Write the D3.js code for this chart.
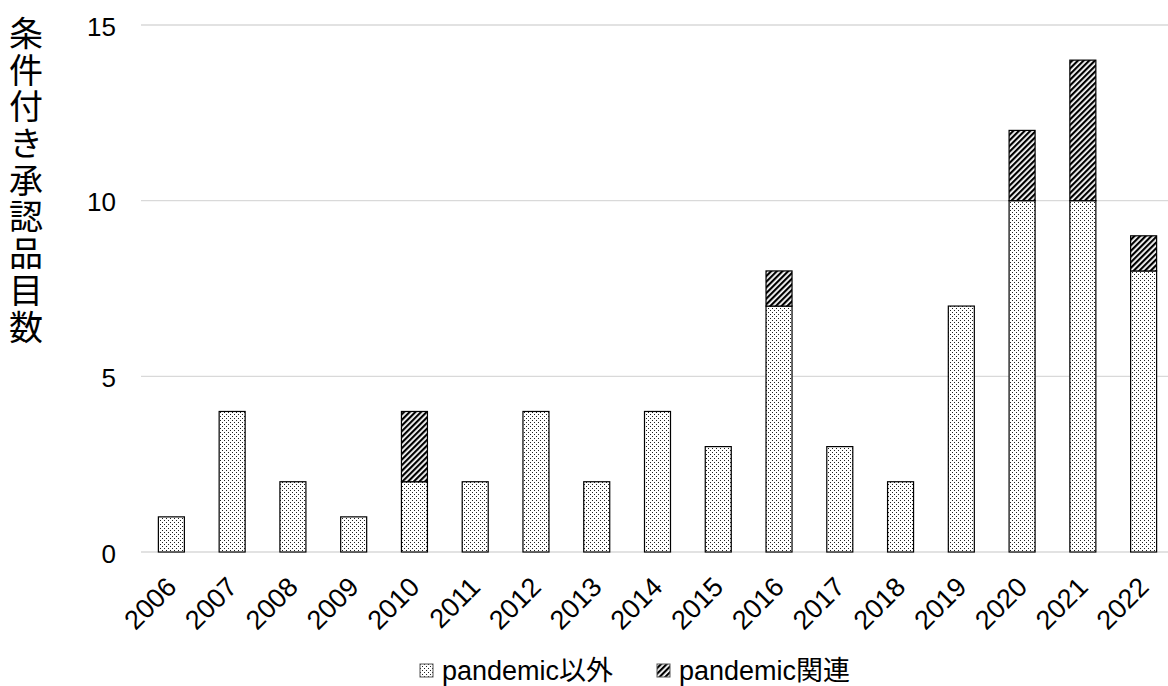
<!DOCTYPE html>
<html><head><meta charset="utf-8">
<script src="https://cdn.jsdelivr.net/npm/d3@7"></script>
<style>
html,body{margin:0;padding:0;background:#fff;}
svg{display:block;font-family:"Liberation Sans",Arial,"Noto Sans CJK JP",sans-serif;}
</style></head>
<body><svg id="c" width="1168" height="686"></svg>
<script>
const years = ["2006","2007","2008","2009","2010","2011","2012","2013","2014","2015","2016","2017","2018","2019","2020","2021","2022"];
const nonPandemic = [1,4,2,1,2,2,4,2,4,3,7,3,2,7,10,10,8];
const pandemic = [0,0,0,0,2,0,0,0,0,0,1,0,0,0,2,4,1];
const yTicks = [0,5,10,15];
const seriesNames = ["pandemic以外","pandemic関連"];
const yTitle = "条件付き承認品目数";

const svg = d3.select("#c");
const defs = svg.append("defs");
const pd = defs.append("pattern").attr("id","dots").attr("patternUnits","userSpaceOnUse")
  .attr("width",4).attr("height",4);
pd.append("rect").attr("width",4).attr("height",4).attr("fill","#fff");
pd.append("rect").attr("x",0).attr("y",0).attr("width",1).attr("height",1).attr("fill","#222");
pd.append("rect").attr("x",2).attr("y",2).attr("width",1).attr("height",1).attr("fill","#222");
const ph = defs.append("pattern").attr("id","hatch").attr("patternUnits","userSpaceOnUse")
  .attr("width",4).attr("height",10).attr("patternTransform","rotate(45)");
ph.append("rect").attr("width",4).attr("height",10).attr("fill","#fff");
ph.append("rect").attr("x",0).attr("width",2.2).attr("height",10).attr("fill","#000");

const x = d3.scaleBand().domain(years).range([141,1174]).paddingInner(0.572).paddingOuter(0.286);
const y = d3.scaleLinear().domain([0,15]).range([552,25]);

// gridlines
svg.append("g").selectAll("line").data(yTicks).join("line")
  .attr("x1",141).attr("x2",1174).attr("y1",d=>y(d)).attr("y2",d=>y(d))
  .attr("stroke","#d9d9d9").attr("stroke-width",1.3);

// y axis labels
const yAxis = svg.append("g").attr("transform","translate(116,2)")
  .call(d3.axisLeft(y).tickValues(yTicks).tickSize(0).tickPadding(0));
yAxis.select(".domain").remove();
yAxis.selectAll("text").attr("font-size",26).attr("fill","#000").attr("font-family","\"Liberation Sans\",Arial,sans-serif");

// bars
const stackData = years.map((yr,i)=>({year:yr, a:nonPandemic[i], b:pandemic[i]}));
const stack = d3.stack().keys(["a","b"])(stackData);
const fills = ["url(#dots)","url(#hatch)"];
stack.forEach((layer,k)=>{
  svg.append("g").selectAll("rect").data(layer.filter(d=>d[1]-d[0]>0)).join("rect")
    .attr("x",d=>x(d.data.year)).attr("width",x.bandwidth())
    .attr("y",d=>y(d[1])).attr("height",d=>y(d[0])-y(d[1]))
    .attr("fill",fills[k]).attr("stroke","#000").attr("stroke-width",1.2);
});

// x labels
svg.append("g").selectAll("text").data(years).join("text")
  .attr("transform",d=>`translate(${x(d)+x.bandwidth()/2},582) rotate(-45)`)
  .attr("text-anchor","end").attr("dy","0.35em")
  .attr("font-size",27).attr("fill","#000").text(d=>d);

// y title (vertical)
svg.append("text").attr("x",26).attr("y",16)
  .attr("font-size",34).attr("fill","#000")
  .attr("font-family","\"Noto Sans CJK JP\",sans-serif")
  .style("writing-mode","vertical-rl").style("text-orientation","upright")
  .style("letter-spacing","2.7px")
  .text(yTitle);

// legend
const lg = svg.append("g").attr("font-size",27).attr("fill","#000");
const lx = [420,657];
seriesNames.forEach((n,i)=>{
  lg.append("rect").attr("x",lx[i]).attr("y",664).attr("width",13).attr("height",13)
    .attr("fill",fills[i]).attr("stroke","#555").attr("stroke-width",1);
  lg.append("text").attr("x",lx[i]+22).attr("y",680).text(n);
});
</script></body></html>
